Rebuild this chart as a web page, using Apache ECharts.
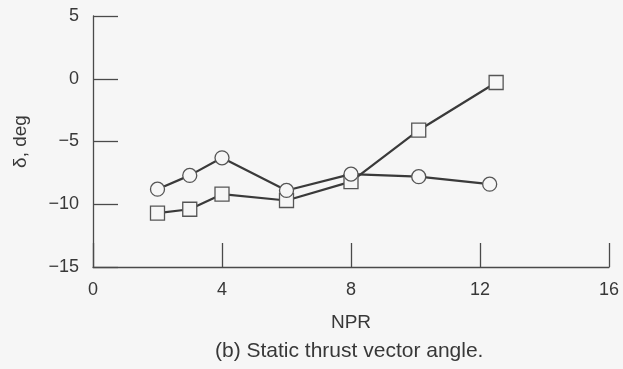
<!DOCTYPE html>
<html><head><meta charset="utf-8">
<script src="https://cdn.jsdelivr.net/npm/echarts@6/dist/echarts.min.js"></script>
<style>html,body{margin:0;padding:0;background:#f6f6f6}#c{width:623px;height:369px}</style>
</head><body><div id="c"></div>
<script>
var circleX = [2, 3, 4, 6, 8, 10.1, 12.3];
var circleY = [-8.8, -7.7, -6.3, -8.9, -7.6, -7.8, -8.4];
var squareX = [2, 3, 4, 6, 8, 10.1, 12.5];
var squareY = [-10.7, -10.4, -9.2, -9.7, -8.2, -4.1, -0.3];
var xTicks = [0, 4, 8, 12, 16];
var yTicks = [-15, -10, -5, 0, 5];
var xTitle = 'NPR';
var yTitle = 'δ, deg';
var caption = '(b) Static thrust vector angle.';

function pairs(xs, ys){ return xs.map(function(x,i){ return [x, ys[i]]; }); }
function fmt(v){ return String(v).replace('-', '\u2212'); }
var axisCol = '#4a4a4a', textCol = '#383838', lineCol = '#3a3a3a';
var font = 'Liberation Sans, Arial, Helvetica, sans-serif';

var chart = echarts.init(document.getElementById('c'), null, {renderer:'canvas'});
chart.setOption({
  backgroundColor: '#f6f6f6',
  animation: false,
  grid: {left: 93, right: 14, top: 16, bottom: 102},
  graphic: [{type: 'text', left: 215, top: 341,
    style: {text: caption, font: '21px ' + font, fill: textCol}}],
  xAxis: {
    type: 'value', min: xTicks[0], max: xTicks[xTicks.length-1], interval: 4,
    name: xTitle, nameLocation: 'middle', nameGap: 46,
    nameTextStyle: {fontFamily: font, fontSize: 19, color: textCol},
    axisLine: {onZero: false, lineStyle: {color: axisCol, width: 1.3}},
    axisTick: {inside: true, length: 24, lineStyle: {color: axisCol, width: 1.3}},
    axisLabel: {fontFamily: font, fontSize: 18, color: textCol, margin: 14, formatter: fmt},
    splitLine: {show: false}
  },
  yAxis: {
    type: 'value', min: yTicks[0], max: yTicks[yTicks.length-1], interval: 5,
    name: yTitle, nameLocation: 'middle', nameGap: 63, nameRotate: 90,
    nameTextStyle: {fontFamily: font, fontSize: 19, color: textCol},
    axisLine: {onZero: false, lineStyle: {color: axisCol, width: 1.3}},
    axisTick: {inside: true, length: 25, lineStyle: {color: axisCol, width: 1.3}},
    axisLabel: {fontFamily: font, fontSize: 18, color: textCol, margin: 14, formatter: fmt},
    splitLine: {show: false}
  },
  series: [
    {type: 'line', data: pairs(circleX, circleY), symbol: 'circle', symbolSize: 14,
     lineStyle: {color: lineCol, width: 2.2},
     itemStyle: {color: '#f6f6f6', borderColor: '#555', borderWidth: 1.3}, z: 3},
    {type: 'line', data: pairs(squareX, squareY), symbol: 'rect', symbolSize: 14,
     lineStyle: {color: lineCol, width: 2.2},
     itemStyle: {color: '#f6f6f6', borderColor: '#555', borderWidth: 1.3}, z: 2}
  ]
});
</script></body></html>
